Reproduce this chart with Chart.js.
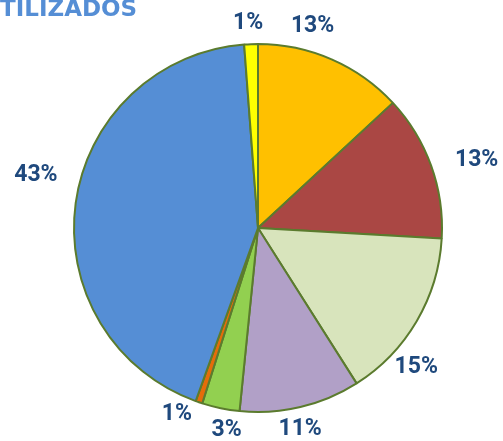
<!DOCTYPE html>
<html>
<head>
<meta charset="utf-8">
<script src="https://cdn.jsdelivr.net/npm/chart.js@4/dist/chart.umd.min.js"></script>
<style>
  html, body { margin: 0; padding: 0; background: #ffffff; }
  #wrap { position: relative; width: 503px; height: 441px; }
</style>
</head>
<body>
<div id="wrap"><canvas id="pieChart" width="503" height="441"></canvas></div>
<script>
// Datos (porcentajes, orden horario desde arriba)
const categories = ['A', 'B', 'C', 'D', 'E', 'F', 'G', 'H'];
const shares = [13.1, 12.8, 15.1, 10.6, 3.3, 0.6, 43.3, 1.2];
const sliceColors = ['#FFC000', '#AA4744', '#D8E4BC', '#B1A0C7', '#92D050', '#E46C0A', '#558ED5', '#FFFF00'];

// ajuste fino de cada etiqueta respecto al punto medio del sector
const labelNudge = [[-29, -10], [22, 3], [-22, 33], [-6, -2], [11, -2], [-14, -12], [-15, -25], [-2, 4]];

const pctLabels = {
    id: 'pctLabels',
    afterDatasetsDraw(chart) {
        const ctx = chart.ctx;
        const meta = chart.getDatasetMeta(0);
        const total = shares.reduce((a, b) => a + b, 0);
        ctx.save();
        ctx.font = 'bold 23px Roboto';
        ctx.fillStyle = '#1F497D';
        ctx.textAlign = 'center';
        ctx.textBaseline = 'middle';
        meta.data.forEach((arc, i) => {
            const mid = (arc.startAngle + arc.endAngle) / 2;
            const r = arc.outerRadius + 25;
            const x = arc.x + Math.cos(mid) * r + labelNudge[i][0];
            const y = arc.y + Math.sin(mid) * r + labelNudge[i][1];
            ctx.fillText(Math.round(shares[i] / total * 100) + '%', x, y);
        });
        // titulo recortado
        ctx.font = 'bold 23px "DejaVu Sans"';
        ctx.fillStyle = '#558ED5';
        ctx.textAlign = 'left';
        ctx.textBaseline = 'alphabetic';
        ctx.fillText('TILIZADOS', 0, 16);
        ctx.restore();
    }
};

new Chart(document.getElementById('pieChart').getContext('2d'), {
    type: 'pie',
    data: {
        labels: categories,
        datasets: [{
            data: shares,
            backgroundColor: sliceColors,
            borderColor: '#5B7B2E',
            borderWidth: 2
        }]
    },
    options: {
        responsive: false,
        animation: false,
        layout: { padding: { left: 73, right: 60, top: 43, bottom: 28 } },
        plugins: {
            legend: { display: false },
            tooltip: { enabled: false }
        }
    },
    plugins: [pctLabels]
});
</script>
</body>
</html>
